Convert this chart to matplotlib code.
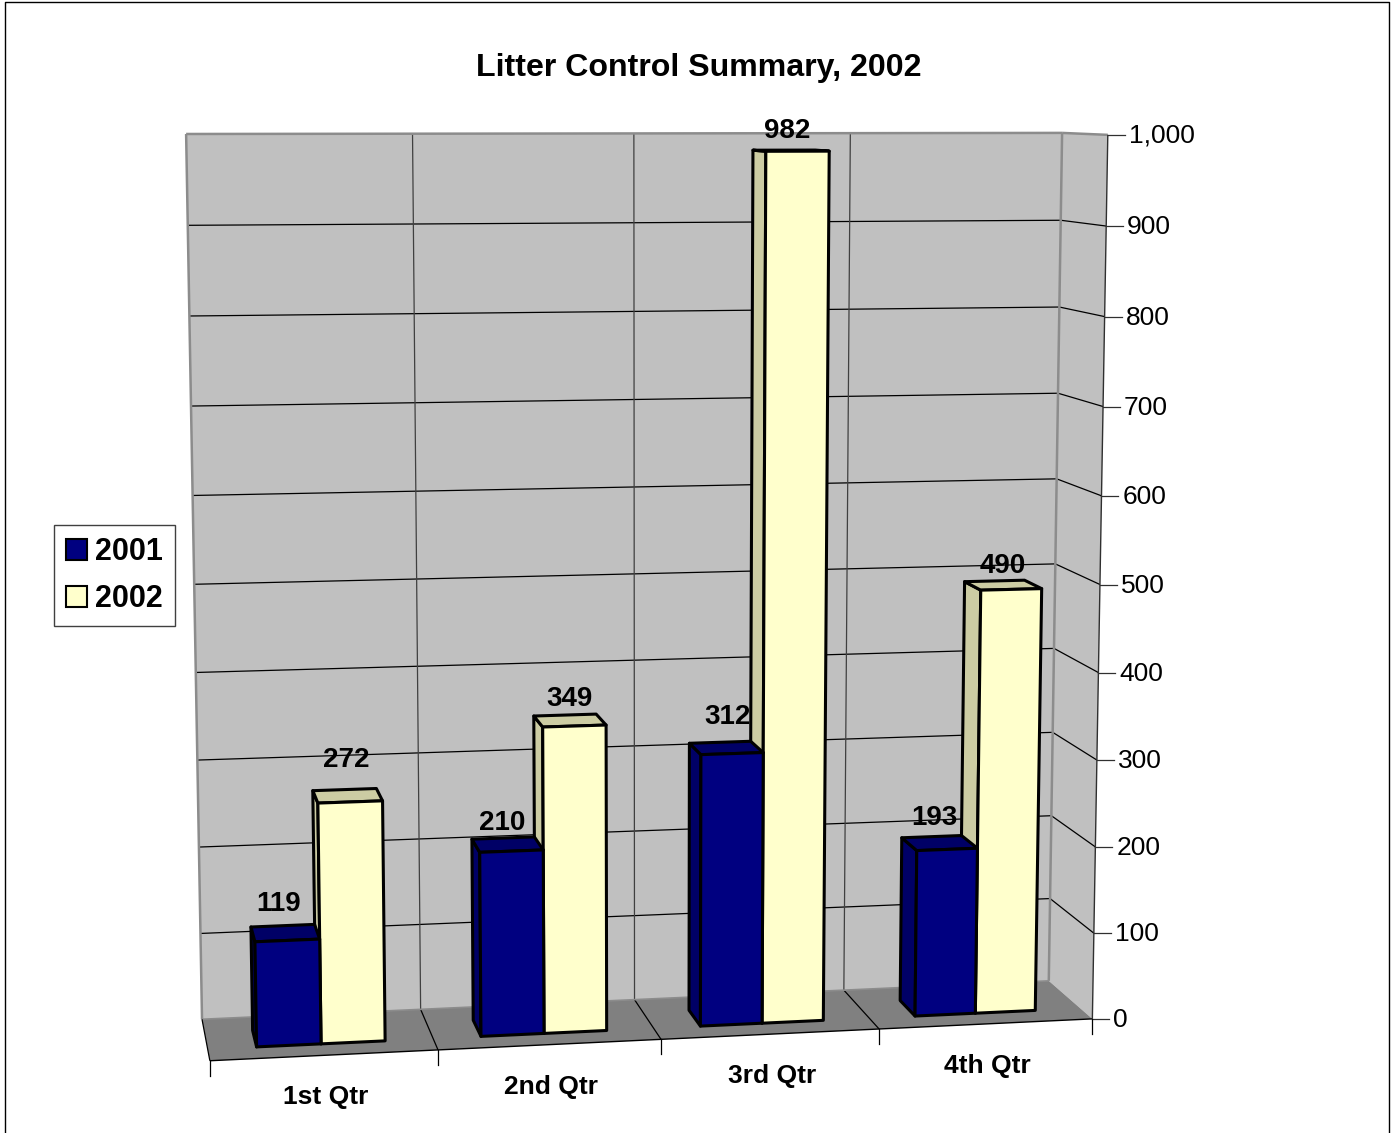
import matplotlib
matplotlib.use('Agg')
import matplotlib.pyplot as plt
from matplotlib.patches import Polygon, Patch
import numpy as np

categories = ['1st Qtr', '2nd Qtr', '3rd Qtr', '4th Qtr']
series_names = ['2001', '2002']
values_2001 = [119, 210, 312, 193]
values_2002 = [272, 349, 982, 490]
y_ticks = [0, 100, 200, 300, 400, 500, 600, 700, 800, 900, 1000]
y_labels = ['0', '100', '200', '300', '400', '500', '600', '700', '800', '900', '1,000']

plt.rcParams['font.family'] = ['Liberation Sans', 'DejaVu Sans']

NAVY, NAVY_D = '#000080', '#000066'
IVORY, IVORY_D = '#FFFFCC', '#CCCCA3'
WALL, FLOOR, EDGE = '#C0C0C0', '#808080', '#8C8C8C'

# perspective camera, fitted on the corners of the plot box
# (category, value, depth) -> pixel
anchors = [((0, 0, 0), (210, 1061)), ((4, 0, 0), (1092, 1019)), ((4, 500, 0), (1100, 584)),
           ((4, 1000, 0), (1108, 135)), ((0, 0, 1), (202, 1019)), ((4, 0, 1), (1049, 981)),
           ((4, 1000, 1), (1062, 133)), ((0, 1000, 1), (186, 134))]
rows = []
for (cx, cy, cz), (u, v) in anchors:
    X = [cx / 4, cy / 1000, cz, 1]
    u, v = u / 1000, v / 1000
    rows.append(X + [0, 0, 0, 0] + [-u * a for a in X])
    rows.append([0, 0, 0, 0] + X + [-v * a for a in X])
cam = np.linalg.svd(np.array(rows))[2][-1].reshape(3, 4)


def pr(cx, cy, cz):
    p = cam @ np.array([cx / 4, cy / 1000, cz, 1])
    return p[0] / p[2] * 1000, p[1] / p[2] * 1000


def face(ax, pts, color, z, ec='none', lw=0):
    ax.add_patch(Polygon([pr(*q) for q in pts], closed=True, fc=color, ec=ec, lw=lw, zorder=z, joinstyle='round'))


def seg(ax, a, b, color='black', lw=0.9, z=2):
    pa, pb = pr(*a), pr(*b)
    ax.plot([pa[0], pb[0]], [pa[1], pb[1]], color=color, lw=lw, zorder=z, solid_capstyle='butt')


def bar(ax, x0, x1, h, front, side, z):
    z0, z1 = 0.27, 0.67
    face(ax, [(x0, 0, z0), (x0, h, z0), (x0, h, z1), (x0, 0, z1)], side, z, 'black', 2.2)
    face(ax, [(x0, h, z0), (x1, h, z0), (x1, h, z1), (x0, h, z1)], side, z, 'black', 2.2)
    face(ax, [(x0, 0, z0), (x1, 0, z0), (x1, h, z0), (x0, h, z0)], front, z, 'black', 2.2)


fig = plt.figure(figsize=(13.94, 11.33), dpi=100)
ax = fig.add_axes([0, 0, 1, 1])
ax.set_xlim(0, 1394)
ax.set_ylim(1133, 0)
ax.axis('off')

# outer chart border, bottom runs off the picture
ax.plot([5, 5, 1389, 1389], [1133, 2, 2, 1133], color='black', lw=1.0, zorder=1)

n = len(categories)
face(ax, [(0, 0, 1), (n, 0, 1), (n, 1000, 1), (0, 1000, 1)], WALL, 1)
face(ax, [(n, 0, 0), (n, 0, 1), (n, 1000, 1), (n, 1000, 0)], WALL, 1)
face(ax, [(0, 0, 0), (n, 0, 0), (n, 0, 1), (0, 0, 1)], FLOOR, 1)

for t in y_ticks[1:-1]:
    seg(ax, (0, t, 1), (n, t, 1))
    seg(ax, (n, t, 1), (n, t, 0))
for i in range(1, n):
    seg(ax, (i, 0, 1), (i, 1000, 1), color='#404040')
    seg(ax, (i, 0, 0), (i, 0, 1))

# wall edges
seg(ax, (0, 0, 1), (0, 1000, 1), EDGE, 1.8)
seg(ax, (0, 1000, 1), (n, 1000, 1), EDGE, 1.8)
seg(ax, (n, 0, 1), (n, 1000, 1), EDGE, 1.8)
seg(ax, (n, 1000, 1), (n, 1000, 0), EDGE, 1.8)
seg(ax, (0, 0, 1), (n, 0, 1), EDGE, 1.2)
seg(ax, (0, 0, 0), (0, 0, 1), 'black', 0.9)

# axes and ticks
seg(ax, (0, 0, 0), (n, 0, 0), 'black', 1.0, 3)
seg(ax, (n, 0, 0), (n, 1000, 0), '#303030', 1.0, 3)
for t, lab in zip(y_ticks, y_labels):
    px, py = pr(n, t, 0)
    ax.plot([px, px + 17], [py, py], color='#303030', lw=0.9, zorder=3)
    ax.text(px + 21, py + 1, lab, fontsize=19, ha='left', va='center')
for i in range(n + 1):
    px, py = pr(i, 0, 0)
    ax.plot([px, px], [py, py + 15], color='black', lw=0.9, zorder=3)
for i, c in enumerate(categories):
    px, py = pr(i + 0.5, 0, 0)
    ax.text(px + 1, py + 42, c, fontsize=19, fontweight='bold', ha='center', va='center')

# bars, right to left so the nearer ones cover the side faces
for i in range(n - 1, -1, -1):
    bar(ax, i + 0.5, i + 0.785, values_2002[i], IVORY, IVORY_D, 10 + 2 * (n - i))
    bar(ax, i + 0.215, i + 0.5, values_2001[i], NAVY, NAVY_D, 11 + 2 * (n - i))

# the data labels do not sit evenly over the bars, nudge them by hand
nudge_2001 = [(-6, -22), (-3, -16), (5, -26), (0, -19)]
nudge_2002 = [(0, -30), (2, -17), (1, -19), (6, -15)]
for i in range(n):
    for x0, v, (dx, dy) in ((i + 0.215, values_2001[i], nudge_2001[i]), (i + 0.5, values_2002[i], nudge_2002[i])):
        px, py = pr(x0 + 0.15, v, 0.65)
        ax.text(px + dx, py + dy, str(v), fontsize=20, fontweight='bold', ha='center', va='center', zorder=40)

ax.text(699, 68, 'Litter Control Summary, 2002', fontsize=23.1, fontweight='bold', ha='center', va='center')

handles = [Patch(fc=NAVY, ec='black', lw=1.5, label=series_names[0]),
           Patch(fc=IVORY, ec='black', lw=1.5, label=series_names[1])]
ax.legend(handles=handles, loc='center', bbox_to_anchor=(114.5, 575.5), bbox_transform=ax.transData,
          prop={'size': 22, 'weight': 'bold', 'family': 'Liberation Sans'}, fancybox=False, framealpha=1,
          edgecolor='#404040', handlelength=0.7, handleheight=0.7, handletextpad=0.27,
          labelspacing=0.55, borderpad=0.38, borderaxespad=0)

fig.savefig('out.png', dpi=100)
